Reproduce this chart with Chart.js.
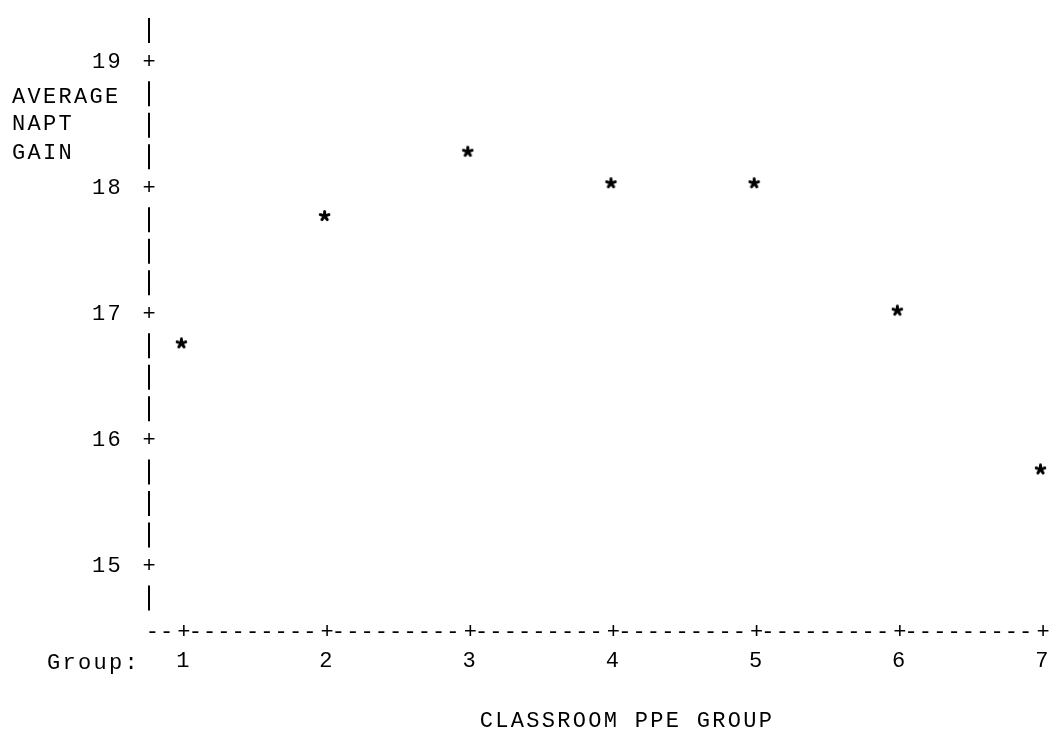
<!DOCTYPE html>
<html>
<head>
<meta charset="utf-8">
<script src="https://cdn.jsdelivr.net/npm/chart.js@4"></script>
<style>
  html, body { margin: 0; padding: 0; background: #ffffff; }
  #wrap { width: 1053px; height: 737px; }
</style>
</head>
<body>
<div id="wrap"><canvas id="plot" width="1053" height="737"></canvas></div>
<script>
// Classroom PPE groups and their average NAPT gain
const groups = [1, 2, 3, 4, 5, 6, 7];
const naptGain = [16.77, 17.78, 18.29, 18.04, 18.04, 17.03, 15.77];
const yTicks = [15, 16, 17, 18, 19];
const xTicks = groups;
const yTitleLines = ['AVERAGE', 'NAPT', 'GAIN'];
const xTitle = 'CLASSROOM PPE GROUP';
const xLabelPrefix = 'Group:';

const FONT = 'Liberation Mono, Courier New, monospace';
const FONT_SIZE = 22;
const INK = '#000000';
const SPACING = '2.3px';

// five-armed "*" used as the plotting symbol (sits slightly left in its print cell)
function asteriskImage() {
  const c = document.createElement('canvas');
  c.width = 20; c.height = 16;
  const g = c.getContext('2d');
  g.strokeStyle = INK;
  g.lineWidth = 3;
  g.lineCap = 'round';
  const cx = 7.5, cy = 8;
  for (let i = 0; i < 5; i++) {
    const a = -Math.PI / 2 + i * 2 * Math.PI / 5;
    g.beginPath();
    g.moveTo(cx, cy);
    g.lineTo(cx + 4.5 * Math.cos(a), cy + 4.5 * Math.sin(a));
    g.stroke();
  }
  return c;
}

// Line-printer style axes: "|" rows, "+" tick marks, "-" baseline
const printerAxes = {
  id: 'printerAxes',
  beforeDraw(chart) {
    chart.ctx.letterSpacing = SPACING;
  },
  afterDraw(chart) {
    const { ctx, chartArea, scales } = chart;
    const xs = scales.x, ys = scales.y;
    ctx.save();
    ctx.fillStyle = INK;
    ctx.strokeStyle = INK;
    ctx.font = FONT_SIZE + 'px ' + FONT;
    ctx.letterSpacing = '0px';
    ctx.textAlign = 'center';
    ctx.textBaseline = 'middle';
    const ax = chartArea.left;

    // vertical axis: one row every quarter unit above the baseline row
    ctx.lineWidth = 2;
    const firstRow = Math.ceil((ys.min + 0.1) * 4) / 4;
    for (let rv = firstRow; rv <= ys.max; rv += 0.25) {
      const py = ys.getPixelForValue(rv);
      if (yTicks.includes(rv)) {
        ctx.fillText('+', ax, py);
      } else {
        ctx.beginPath();
        ctx.moveTo(ax, py - 12.5);
        ctx.lineTo(ax, py + 12.5);
        ctx.stroke();
      }
    }

    // horizontal axis: dashes every tenth of a group, "+" at each group
    const by = chartArea.bottom;
    for (let k = Math.ceil(xs.min * 10); k <= xs.max * 10 + 0.001; k++) {
      const v = k / 10;
      const isTick = xTicks.includes(v);
      ctx.fillText(isTick ? '+' : '-', xs.getPixelForValue(v) - (isTick ? 0 : 3), by);
    }

    // stacked vertical-axis title and row label for the groups
    ctx.letterSpacing = SPACING;
    ctx.textAlign = 'left';
    const titleY = [97, 124, 153];
    yTitleLines.forEach((t, i) => ctx.fillText(t, 12, titleY[i]));
    ctx.fillText(xLabelPrefix, 47, 663);
    ctx.restore();
  }
};

new Chart(document.getElementById('plot'), {
  type: 'scatter',
  data: {
    datasets: [{
      data: groups.map((g, i) => ({ x: g, y: naptGain[i] })),
      pointStyle: asteriskImage(),
      pointRadius: 8,
      clip: false
    }]
  },
  options: {
    responsive: false,
    animation: false,
    devicePixelRatio: 1,
    layout: { padding: { top: 18, right: 10, left: 0, bottom: 0 } },
    plugins: { legend: { display: false }, tooltip: { enabled: false } },
    scales: {
      x: {
        type: 'linear',
        min: 0.756,
        max: 7,
        grid: { display: false, drawTicks: false },
        border: { display: false },
        afterBuildTicks(s) { s.ticks = xTicks.map(v => ({ value: v })); },
        afterFit(s) { s.height = 105; s.paddingLeft = 0; s.paddingRight = 0; },
        ticks: {
          color: INK,
          font: { family: FONT, size: FONT_SIZE },
          padding: 16,
          maxRotation: 0,
          autoSkip: false,
          callback: v => String(v)
        },
        title: {
          display: true,
          text: '    ' + xTitle,
          color: INK,
          font: { family: FONT, size: FONT_SIZE },
          padding: { top: 0, bottom: 3 }
        }
      },
      y: {
        type: 'linear',
        min: 14.48,
        max: 19.35,
        grid: { display: false, drawTicks: false },
        border: { display: false },
        afterBuildTicks(s) { s.ticks = yTicks.map(v => ({ value: v })); },
        afterFit(s) { s.width = 149; s.paddingTop = 0; s.paddingBottom = 0; },
        ticks: {
          color: INK,
          font: { family: FONT, size: FONT_SIZE },
          padding: 26,
          callback: v => String(v)
        }
      }
    }
  },
  plugins: [printerAxes]
});
</script>
</body>
</html>
